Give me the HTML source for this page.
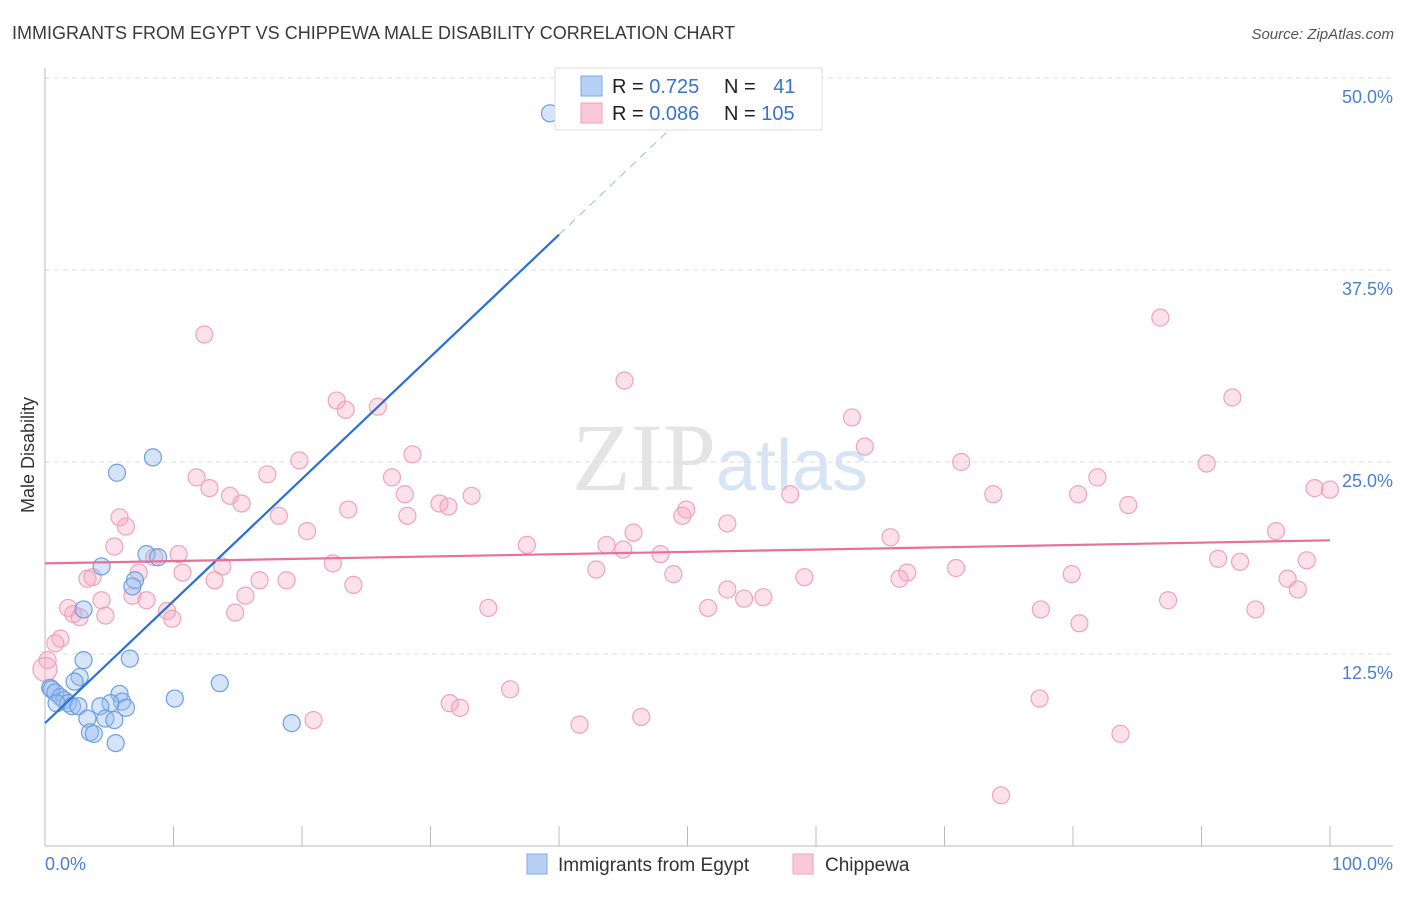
<!DOCTYPE html>
<html><head><meta charset="utf-8"><style>
body{margin:0;background:#fff;font-family:"Liberation Sans",sans-serif;}
</style></head><body>
<svg id="chart" width="1406" height="892" xmlns="http://www.w3.org/2000/svg" font-family="Liberation Sans, sans-serif">
<text x="12" y="39" font-size="18" fill="#3a3a3a">IMMIGRANTS FROM EGYPT VS CHIPPEWA MALE DISABILITY CORRELATION CHART</text>
<text x="1394" y="39" font-size="15" fill="#555" text-anchor="end" font-style="italic">Source: ZipAtlas.com</text>
<text x="720" y="490" font-size="96" fill="#e4e4e4" text-anchor="middle" font-family="Liberation Serif, serif">ZIP<tspan fill="#d6e4f5" font-family="Liberation Sans, sans-serif" font-size="72">atlas</tspan></text>
<g id="grid"></g>
<g id="axes"></g>
<g id="marks"></g>
<text transform="translate(34,455) rotate(-90)" font-size="18" fill="#333" text-anchor="middle">Male Disability</text>
<g>
<rect x="555" y="68" width="267" height="62" fill="#fff" stroke="#ddd"/>
<rect x="581" y="76" width="21" height="20" fill="#b7d1f5" stroke="#7ea8e6"/>
<rect x="581" y="103" width="21" height="20" fill="#fbc8d7" stroke="#f1a0b9"/>
<text x="612" y="93" font-size="20" fill="#222">R = <tspan fill="#3b73c9">0.725</tspan></text>
<text x="724" y="93" font-size="20" fill="#222">N = <tspan fill="#3b73c9" dx="12">41</tspan></text>
<text x="612" y="120" font-size="20" fill="#222">R = <tspan fill="#3b73c9">0.086</tspan></text>
<text x="724" y="120" font-size="20" fill="#222">N = <tspan fill="#3b73c9">105</tspan></text>
</g>
<g>
<rect x="527" y="854" width="20" height="20" fill="#b7d1f5" stroke="#7ea8e6"/>
<text x="558" y="871" font-size="19" fill="#333">Immigrants from Egypt</text>
<rect x="793" y="854" width="20" height="20" fill="#fbc8d7" stroke="#f1a0b9"/>
<text x="825" y="871" font-size="19" fill="#333">Chippewa</text>
</g>
</svg>
<script>
const yTicks=[12.5,25,37.5,50];
const yTickLabels=["12.5%","25.0%","37.5%","50.0%"];
const xTickLabels=["0.0%","100.0%"];
const pinkX=[12.4,86.8,45.1,22.7,23.4,25.9,92.4,62.8,63.8,28.6,19.8,71.3,90.4,17.3,11.8,12.8,27.0,81.9,14.4,15.3,28.0,33.2,30.7,31.4,23.6,73.8,80.4,58.0,98.8,100,5.8,6.3,18.2,28.2,49.9,49.6,53.1,84.3,45.8,20.4,95.8,5.4,37.5,43.7,45.0,65.8,10.4,8.5,47.9,22.4,13.8,7.3,10.7,67.1,42.9,91.3,93.0,98.2,70.9,3.3,3.7,13.2,16.7,18.8,24.0,48.9,59.1,66.5,79.9,96.7,53.1,97.5,6.8,7.9,15.6,54.4,55.9,87.4,4.4,1.8,2.2,2.7,4.7,9.5,9.9,14.8,34.5,51.6,77.5,94.2,80.5,1.2,0.8,0.2,0,36.2,31.5,32.3,77.4,46.4,20.9,41.6,83.7,74.4];
const pinkY=[33.3,34.4,30.3,29.0,28.4,28.6,29.2,27.9,26.0,25.5,25.1,25.0,24.9,24.2,24.0,23.3,24.0,24.0,22.8,22.3,22.9,22.8,22.3,22.1,21.9,22.9,22.9,22.9,23.3,23.2,21.4,20.8,21.5,21.5,21.9,21.5,21.0,22.2,20.4,20.5,20.5,19.5,19.6,19.6,19.3,20.1,19.0,18.8,19.0,18.4,18.2,17.8,17.8,17.8,18.0,18.7,18.5,18.6,18.1,17.4,17.5,17.3,17.3,17.3,17.0,17.7,17.5,17.4,17.7,17.4,16.7,16.7,16.3,16.0,16.3,16.1,16.2,16.0,16.0,15.5,15.1,14.9,15.0,15.3,14.8,15.2,15.5,15.5,15.4,15.4,14.5,13.5,13.2,12.1,11.5,10.2,9.3,9.0,9.6,8.4,8.2,7.9,7.3,3.3];
const blueX=[39.3,8.4,5.6,7.9,8.8,4.4,7.0,6.8,3.0,3.0,6.6,2.7,13.6,2.3,0.4,0.5,0.8,1.2,1.5,1.8,2.1,2.6,0.9,5.8,6.0,5.1,4.3,6.3,10.1,3.3,4.7,5.4,19.2,3.5,3.8,5.5];
const blueY=[47.7,25.3,24.3,19.0,18.8,18.2,17.3,16.9,15.4,12.1,12.2,11.0,10.6,10.7,10.3,10.2,10.0,9.7,9.5,9.3,9.1,9.1,9.3,9.9,9.4,9.3,9.1,9.0,9.6,8.3,8.3,8.2,8.0,7.4,7.3,6.7];
const blueLine=[0,8.0,40,39.8,49.3,47.2];
const pinkLine=[0,18.4,100,19.9];
const NS="http://www.w3.org/2000/svg";
const sx=v=>45+v*12.85, sy=v=>846-v*15.36;
function mk(parent,tag,attrs){const e=document.createElementNS(NS,tag);for(const k in attrs)e.setAttribute(k,attrs[k]);document.getElementById(parent).appendChild(e);return e;}
yTicks.forEach((t,i)=>{
 const g=mk('grid','line',{x1:45,x2:1393,y1:sy(t),y2:sy(t),stroke:'#ddd','stroke-dasharray':'5,4'});
 
 
 const l=mk('grid','text',{x:1393,y:sy(t)+25,'font-size':18,fill:'#4a7fd0','text-anchor':'end'});
 l.textContent=yTickLabels[i];
 
 
});
let a=mk('axes','line',{x1:45,x2:1393,y1:846,y2:846,stroke:'#bbb'});


a=mk('axes','line',{x1:45,x2:45,y1:68,y2:846,stroke:'#bbb'});


for(let i=0;i<=10;i++){const t=mk('axes','line',{x1:sx(i*10),x2:sx(i*10),y1:826,y2:846,stroke:'#bbb'});
 
 }
[[0,'start',45],[100,'end',1393]].forEach((d,i)=>{const t=mk('axes','text',{x:d[2],y:870,'font-size':18,fill:'#4a7fd0','text-anchor':d[1]});t.textContent=xTickLabels[i];
 
 });
pinkX.forEach((x,i)=>{const c=mk('marks','circle',{cx:sx(x),cy:sy(pinkY[i]),r:(i==94?12:8.5),fill:'rgba(246,170,195,0.35)',stroke:'#eea3bb','stroke-width':1.2});
 
 });
blueX.forEach((x,i)=>{const c=mk('marks','circle',{cx:sx(x),cy:sy(blueY[i]),r:8.5,fill:'rgba(150,188,240,0.4)',stroke:'#6e9fe0','stroke-width':1.2});
 
 });
let ln=mk('marks','line',{x1:sx(blueLine[0]),y1:sy(blueLine[1]),x2:sx(blueLine[2]),y2:sy(blueLine[3]),stroke:'#2a6fd6','stroke-width':2.2});


ln=mk('marks','line',{x1:sx(blueLine[2]),y1:sy(blueLine[3]),x2:sx(blueLine[4]),y2:sy(blueLine[5]),stroke:'#9bbbe8','stroke-width':1,'stroke-dasharray':'8,6'});


ln=mk('marks','line',{x1:sx(pinkLine[0]),y1:sy(pinkLine[1]),x2:sx(pinkLine[2]),y2:sy(pinkLine[3]),stroke:'#e8709a','stroke-width':2.2});


</script>
</body></html>
